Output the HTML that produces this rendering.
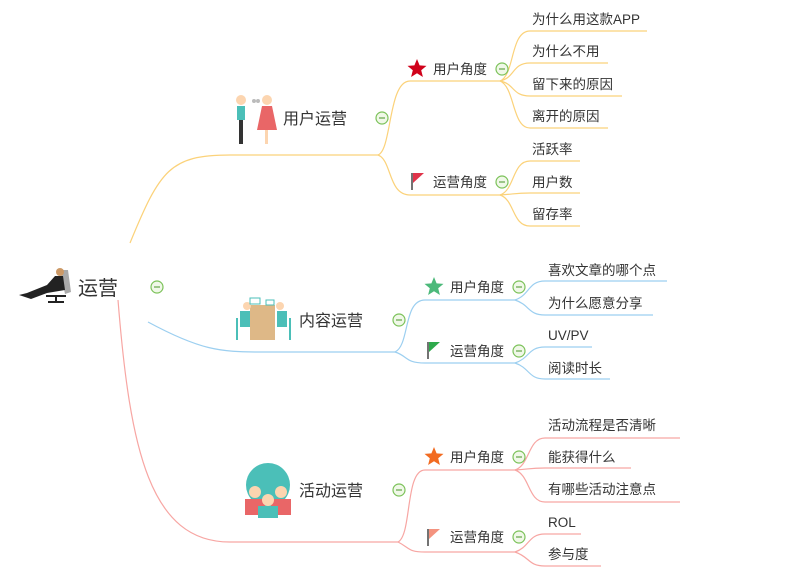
<!DOCTYPE html>
<html><head><meta charset="utf-8"><style>
body{margin:0;background:#fff;}
svg{display:block;font-family:"Liberation Sans","Noto Sans CJK SC",sans-serif;}
text{fill:#333;}
</style></head><body>
<svg width="800" height="578" viewBox="0 0 800 578" xmlns="http://www.w3.org/2000/svg">
<g fill="none" stroke-width="1.2">
<!-- yellow -->
<g stroke="#fbd27a">
<path d="M130,243 C160,170 170,155 230,155 L378,155"/>
<path d="M378,155 C392,150 388,81 410,81 L500,81"/>
<path d="M378,155 C392,160 388,195 410,195 L500,195"/>
<path d="M500,81 C515,75 510,31 530,31 L647,31"/>
<path d="M500,81 C515,78 512,63 530,63 L608,63"/>
<path d="M500,81 C515,84 512,96 530,96 L622,96"/>
<path d="M500,81 C515,87 512,128 530,128 L608,128"/>
<path d="M500,195 C515,190 512,161 530,161 L580,161"/>
<path d="M500,195 C515,194 515,193 530,193 L580,193"/>
<path d="M500,195 C515,200 512,226 530,226 L580,226"/>
</g>
<!-- blue -->
<g stroke="#9ccff0">
<path d="M148,322 C200,350 220,352 260,352 L395,352"/>
<path d="M395,352 C410,345 403,300 425,300 L515,300"/>
<path d="M395,352 C408,356 405,363 425,363 L515,363"/>
<path d="M515,300 C530,295 528,281 545,281 L667,281"/>
<path d="M515,300 C530,305 528,315 545,315 L653,315"/>
<path d="M515,363 C530,358 528,347 545,347 L592,347"/>
<path d="M515,363 C530,368 528,379 545,379 L610,379"/>
</g>
<!-- red -->
<g stroke="#f7a6a3">
<path d="M118,300 C130,450 150,542 230,542 L398,542"/>
<path d="M398,542 C412,535 405,470 425,470 L515,470"/>
<path d="M398,542 C410,548 408,552 425,552 L515,552"/>
<path d="M515,470 C530,465 528,438 545,438 L680,438"/>
<path d="M515,470 C530,469 530,468 545,468 L631,468"/>
<path d="M515,470 C530,475 528,502 545,502 L680,502"/>
<path d="M515,552 C530,547 528,534 545,534 L581,534"/>
<path d="M515,552 C530,557 528,566 545,566 L601,566"/>
</g>
</g>
<!-- collapse circles -->
<g fill="#f0f8e8" stroke="#7cc25a" stroke-width="1.2">
<circle cx="157" cy="287" r="6"/><circle cx="382" cy="118" r="6"/><circle cx="502" cy="69" r="6"/><circle cx="502" cy="182" r="6"/>
<circle cx="399" cy="320" r="6"/><circle cx="519" cy="287" r="6"/><circle cx="519" cy="351" r="6"/>
<circle cx="399" cy="490" r="6"/><circle cx="519" cy="457" r="6"/><circle cx="519" cy="537" r="6"/>
</g>
<g stroke="#6aa84f" stroke-width="1.2">
<path d="M154,287h6M379,118h6M499,69h6M499,182h6M396,320h6M516,287h6M516,351h6M396,490h6M516,457h6M516,537h6"/>
</g>
<!-- icons -->
<g>
<!-- main person -->
<path d="M60,270 l8,0 l3,22 l-6,2z" fill="#aaa"/>
<circle cx="60" cy="272" r="4" fill="#c96"/>
<path d="M55,276 l8,0 l2,14 l-18,3 l-16,6 l-12,-4 l8,-2 l20,-8z" fill="#222"/>
<path d="M46,296 h20 M56,296 v6 M48,302 h16" stroke="#222" stroke-width="2"/>
<!-- user ops people -->
<circle cx="241" cy="100" r="5" fill="#fcd5b0"/><rect x="237" y="106" width="8" height="14" fill="#4bbfb8"/><rect x="239" y="120" width="4" height="24" fill="#333"/>
<circle cx="267" cy="100" r="5" fill="#fcd5b0"/><path d="M262,106 h10 l5,24 h-20z" fill="#e96667"/><rect x="265" y="130" width="3" height="14" fill="#fcd5b0"/>
<circle cx="254" cy="101" r="2" fill="#bbb"/><circle cx="258" cy="101" r="2" fill="#bbb"/>
<!-- content ops -->
<rect x="250" y="305" width="25" height="35" fill="#deb887"/>
<circle cx="247" cy="306" r="4" fill="#fcd5b0"/><circle cx="280" cy="306" r="4" fill="#fcd5b0"/>
<rect x="240" y="311" width="10" height="16" fill="#4bbfb8"/><rect x="277" y="311" width="10" height="16" fill="#4bbfb8"/>
<path d="M237,318 v22 M290,318 v22" stroke="#4bbfb8" stroke-width="2"/>
<rect x="250" y="298" width="10" height="6" fill="none" stroke="#4bbfb8"/><rect x="266" y="300" width="8" height="5" fill="none" stroke="#4bbfb8"/>
<!-- activity -->
<circle cx="268" cy="485" r="22" fill="#4bbfb8"/>
<circle cx="255" cy="492" r="6" fill="#fcd5b0"/><circle cx="281" cy="492" r="6" fill="#fcd5b0"/>
<rect x="245" y="499" width="20" height="16" fill="#e96667"/><rect x="271" y="499" width="20" height="16" fill="#e96667"/>
<circle cx="268" cy="500" r="6" fill="#fcd5b0"/><rect x="258" y="506" width="20" height="12" fill="#4bbfb8"/>
<!-- stars & flags -->
<polygon points="417,59 419.6,65.4 426.5,65.9 421.2,70.3 422.9,77 417,73.3 411.1,77 412.8,70.3 407.5,65.9 414.4,65.4" fill="#d0021b"/>
<polygon points="434,277 436.6,283.4 443.5,283.9 438.2,288.3 439.9,295 434,291.3 428.1,295 429.8,288.3 424.5,283.9 431.4,283.4" fill="#4cb97a"/>
<polygon points="434,447 436.6,453.4 443.5,453.9 438.2,458.3 439.9,465 434,461.3 428.1,465 429.8,458.3 424.5,453.9 431.4,453.4" fill="#f26b21"/>
<path d="M412,173 v17" stroke="#444" stroke-width="1.5"/><polygon points="413,173 424,173 413,183" fill="#e0344a"/>
<path d="M428,342 v17" stroke="#444" stroke-width="1.5"/><polygon points="429,342 440,342 429,352" fill="#2eaa4c"/>
<path d="M428,529 v17" stroke="#444" stroke-width="1.5"/><polygon points="429,529 440,529 429,539" fill="#f4937f"/>
</g>
<!-- text -->
<text x="78" y="295" font-size="20">运营</text>
<text x="283" y="124" font-size="16">用户运营</text>
<text x="299" y="326" font-size="16">内容运营</text>
<text x="299" y="496" font-size="16">活动运营</text>
<g font-size="13.5">
<text x="433" y="74">用户角度</text><text x="433" y="187">运营角度</text>
<text x="450" y="292">用户角度</text><text x="450" y="356">运营角度</text>
<text x="450" y="462">用户角度</text><text x="450" y="542">运营角度</text>
<text x="532" y="24">为什么用这款APP</text><text x="532" y="56">为什么不用</text><text x="532" y="89">留下来的原因</text><text x="532" y="121">离开的原因</text>
<text x="532" y="154">活跃率</text><text x="532" y="187">用户数</text><text x="532" y="219">留存率</text>
<text x="548" y="275">喜欢文章的哪个点</text><text x="548" y="308">为什么愿意分享</text><text x="548" y="340">UV/PV</text><text x="548" y="373">阅读时长</text>
<text x="548" y="430">活动流程是否清晰</text><text x="548" y="462">能获得什么</text><text x="548" y="494">有哪些活动注意点</text><text x="548" y="527">ROL</text><text x="548" y="559">参与度</text>
</g>
</svg>
</body></html>
